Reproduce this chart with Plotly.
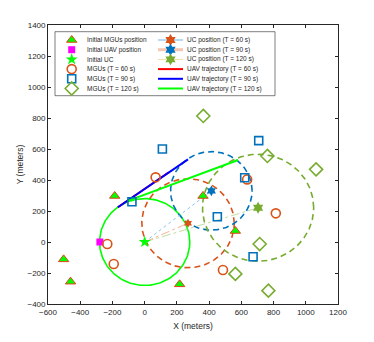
import numpy as np
import plotly.graph_objects as go

# initial positions
mgu0_x = [-503, -460, -186, 217, 362, 563]
mgu0_y = [-112, -256, 297, -273, 297, 71]
uav0_x = [-278]
uav0_y = [0]
uc0_x = [0]
uc0_y = [0]

# MGU positions over time
mgu60_x = [-232, -192, 68, 486, 636, 814]
mgu60_y = [-13, -142, 417, -181, 404, 185]
mgu90_x = [-79, 110, 451, 621, 673, 708]
mgu90_y = [260, 600, 163, 415, -95, 654]
mgu120_x = [364, 563, 714, 762, 768, 1064]
mgu120_y = [813, -206, -13, 555, -314, 469]

# UC positions (centres of coverage circles) and radii
times = ["60", "90", "120"]
uc_x = [269, 414, 704]
uc_y = [121, 330, 221]
uc_r = [287, 253, 345]
uc0_r = 280

# UAV trajectories (start, end)
traj_x = [[-166, 150], [-166, 269], [-104, 580]]
traj_y = [[224, 450], [224, 533], [265, 529]]

ORANGE = "#D95319"
BLUE = "#0072BD"
GREEN = "#77AC30"
LIME = "#00FF00"
FONT = "Liberation Sans, Arial, sans-serif"

m_mgu0 = dict(symbol="triangle-up", size=9, color=LIME, line=dict(color="#E8401A", width=1))
m_uav0 = dict(symbol="square", size=7, color="#FF00FF")
m_uc0 = dict(symbol="star", size=9, color=LIME)
m_mgu60 = dict(symbol="circle-open", size=9, color=ORANGE, line=dict(width=1.6))
m_mgu90 = dict(symbol="square-open", size=8, color=BLUE, line=dict(width=1.6))
m_mgu120 = dict(symbol="diamond-open", size=10, color=GREEN, line=dict(width=1.6))
uc_cols = [ORANGE, BLUE, GREEN]
uc_sizes = [7, 8, 9]
traj_cols = ["#FF0000", "#0000FF", LIME]

fig = go.Figure()

def circle(cx, cy, r):
    t = np.linspace(0, 2 * np.pi, 200)
    return cx + r * np.cos(t), cy + r * np.sin(t)

# coverage circles
cx, cy = circle(uc0_x[0], uc0_y[0], uc0_r)
fig.add_trace(go.Scatter(x=cx, y=cy, mode="lines", line=dict(color=LIME, width=1.6)))
for i in range(3):
    cx, cy = circle(uc_x[i], uc_y[i], uc_r[i])
    fig.add_trace(go.Scatter(x=cx, y=cy, mode="lines",
                             line=dict(color=uc_cols[i], width=1.6, dash="6px,4px")))

# lines from initial UC to UC positions
link_cols = ["#F0A080", "#6FB6E8", "#B5D08A"]
link_dash = ["dashdot", "dot", "dashdot"]
for i in range(3):
    fig.add_trace(go.Scatter(x=[uc0_x[0], uc_x[i]], y=[uc0_y[0], uc_y[i]], mode="lines",
                             line=dict(color=link_cols[i], width=0.8, dash=link_dash[i])))

# UAV trajectories
for i in range(3):
    fig.add_trace(go.Scatter(x=traj_x[i], y=traj_y[i], mode="lines",
                             line=dict(color=traj_cols[i], width=2)))

# markers
fig.add_trace(go.Scatter(x=mgu0_x, y=mgu0_y, mode="markers", marker=m_mgu0))
fig.add_trace(go.Scatter(x=uav0_x, y=uav0_y, mode="markers", marker=m_uav0))
fig.add_trace(go.Scatter(x=uc0_x, y=uc0_y, mode="markers", marker=m_uc0))
fig.add_trace(go.Scatter(x=mgu60_x, y=mgu60_y, mode="markers", marker=m_mgu60))
fig.add_trace(go.Scatter(x=mgu90_x, y=mgu90_y, mode="markers", marker=m_mgu90))
fig.add_trace(go.Scatter(x=mgu120_x, y=mgu120_y, mode="markers", marker=m_mgu120))
for i in range(3):
    fig.add_trace(go.Scatter(x=[uc_x[i]], y=[uc_y[i]], mode="markers",
                             marker=dict(symbol="hexagram", size=uc_sizes[i], color=uc_cols[i])))

# legend (MATLAB-style, compact), drawn on an overlay axis in pixel units
W, H = 290, 279
leg_col1 = [("Initial MGUs position", m_mgu0), ("Initial UAV position", m_uav0),
            ("Initial UC", m_uc0), ("MGUs (T = 60 s)", m_mgu60),
            ("MGUs (T = 90 s)", m_mgu90), ("MGUs (T = 120 s)", m_mgu120)]
leg_line = ["#6FB6E8", "#F6C6B2", "#F2DDA0"]
leg_w = [1, 3, 1]
leg_col2 = [("UC position (T = %s s)" % t, dict(color=leg_line[i], width=leg_w[i]),
             dict(symbol="hexagram", size=9, color=uc_cols[i])) for i, t in enumerate(times)]
leg_col2 += [("UAV trajectory (T = %s s)" % t, dict(color=traj_cols[i], width=2), None)
             for i, t in enumerate(times)]

box_l, box_r, box_t, box_b = 7, 227, 6.7, 70.7
fig.add_trace(go.Scatter(x=[box_l, box_r, box_r, box_l, box_l],
                         y=[H - box_t, H - box_t, H - box_b, H - box_b, H - box_t],
                         mode="lines", fill="toself", fillcolor="white",
                         line=dict(color="#262626", width=0.6), xaxis="x2", yaxis="y2"))
row_y = [H - (15 + 9.7 * k) for k in range(6)]
annotations = []
for k, (name, mk) in enumerate(leg_col1):
    fig.add_trace(go.Scatter(x=[23.7], y=[row_y[k]], mode="markers", marker=mk,
                             xaxis="x2", yaxis="y2"))
    annotations.append(dict(x=37, y=row_y[k], text=name))
for k, (name, ln, mk) in enumerate(leg_col2):
    fig.add_trace(go.Scatter(x=[110, 135], y=[row_y[k]] * 2, mode="lines", line=ln,
                             xaxis="x2", yaxis="y2"))
    if mk is not None:
        fig.add_trace(go.Scatter(x=[122.5], y=[row_y[k]], mode="markers", marker=mk,
                                 xaxis="x2", yaxis="y2"))
    annotations.append(dict(x=136.5, y=row_y[k], text=name))
for a in annotations:
    a.update(xref="x2", yref="y2", xanchor="left", yanchor="middle", showarrow=False,
             font=dict(size=6.5, color="#262626"))

axis = dict(showline=True, linecolor="#262626", linewidth=0.8, mirror="ticks", ticks="inside",
            ticklen=3, tickcolor="#262626", showgrid=False, zeroline=False,
            tickfont=dict(size=8, color="#262626"), dtick=200)
fig.update_xaxes(axis, range=[-600, 1200], title=dict(text="X (meters)", font=dict(size=8.5), standoff=7))
fig.update_yaxes(axis, range=[-400, 1400], title=dict(text="Y (meters)", font=dict(size=8.5), standoff=2))

# the page body adds an 8px margin, so the figure is 8px smaller than the window
fig.update_layout(
    width=366, height=334,
    margin=dict(l=40, r=36, t=17, b=38),
    paper_bgcolor="white", plot_bgcolor="white",
    font=dict(family=FONT, color="#262626"),
    showlegend=False,
    annotations=annotations,
    xaxis2=dict(overlaying="x", range=[0, W], visible=False, fixedrange=True),
    yaxis2=dict(overlaying="y", range=[0, H], visible=False, fixedrange=True),
)

fig.write_html("out.html")
